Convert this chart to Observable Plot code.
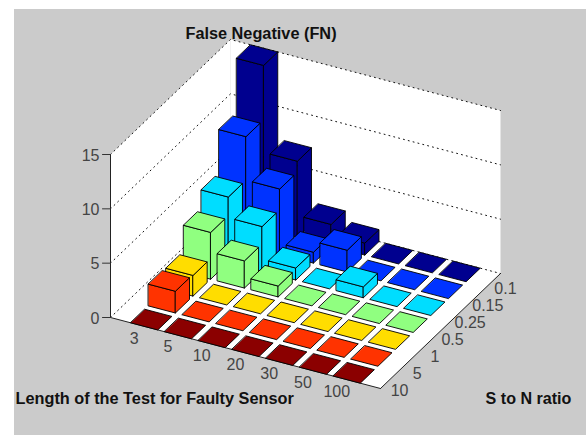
<!DOCTYPE html>
<html>
<head>
<meta charset="utf-8">
<script src="https://cdn.jsdelivr.net/npm/d3@7"></script>
<script src="https://cdn.jsdelivr.net/npm/@observablehq/plot@0.6"></script>
<style>
html,body{margin:0;padding:0;background:#fff;overflow:hidden}
svg{display:block}
</style>
</head>
<body>
<div id="chart"></div>
<script>
const title = "False Negative (FN)";
const xTitle = "Length of the Test for Faulty Sensor";
const yTitle = "S to N ratio";
const testLengths = ["3","5","10","20","30","50","100"];
const snRatios = ["10","5","1","0.5","0.25","0.15","0.1"];
const zTicks = [0,5,10,15];
const rowColors = ["#8b0000","#ff3300","#ffdd00","#90ff80","#00ddff","#0033ff","#00008f"];
const fn10   = [0,0,0,0,0,0,0];
const fn5    = [2,0,0,0,0,0,0];
const fn1    = [1.9,0,0,0,0,0,0];
const fn05   = [4.3,2.5,1,0,0,0,0];
const fn025  = [6,4.1,1.1,0,1,0,0];
const fn015  = [10,6,1,2,0,0,0];
const fn01   = [15,7,2,1.1,0,0,0];
const values = [fn10,fn5,fn1,fn05,fn025,fn015,fn01];

// Affine view of the box: floor corners on screen and height of the z range
const L=[110,317], F=[380,388], R=[500,273], zPx=163, zMax=15;
const xSpan=8, ySpan=6.8, barW=0.8;
const proj=(a,b,z)=>{
  const u=a/xSpan, v=(b-0.6)/ySpan;
  return [L[0]+u*(F[0]-L[0])+v*(R[0]-F[0]), L[1]+u*(F[1]-L[1])+v*(R[1]-F[1])-z/zMax*zPx];
};
const poly=(id,pts,extra={})=>pts.map(p=>{const [x,y]=proj(...p);return {id,x,y,...extra};});

// walls and floor
const a0=0,a1=xSpan,b0=0.6,b1=0.6+ySpan;
const walls=[
  ...poly("floor",[[a0,b0,0],[a1,b0,0],[a1,b1,0],[a0,b1,0]]),
  ...poly("wallL",[[a0,b0,0],[a0,b1,0],[a0,b1,zMax],[a0,b0,zMax]]),
  ...poly("wallB",[[a0,b1,0],[a1,b1,0],[a1,b1,zMax],[a0,b1,zMax]])
];
const grid=zTicks.flatMap(z=>poly("g"+z,[[a0,b0,z],[a0,b1,z],[a1,b1,z]]));
const axisLines=[
  ...poly("zAxis",[[a0,b0,0],[a0,b0,zMax]]),
  ...poly("xAxis",[[a0,b0,0],[a1,b0,0]]),
  ...poly("yAxis",[[a1,b0,0],[a1,b1,0]])
];
const zTickLines=zTicks.flatMap(z=>{
  const [x,y]=proj(a0,b0,z);
  return [{id:"t"+z,x,y},{id:"t"+z,x:x-8,y}];
});

// bars back to front
const faces=[];
for(let r=snRatios.length-1;r>=0;r--){
  for(let c=0;c<testLengths.length;c++){
    const h=values[r][c], a=c+1-barW/2, A=c+1+barW/2, b=r+1-barW/2, B=r+1+barW/2;
    const e={color:rowColors[r]};
    const k=`${r}-${c}`;
    if(h>0){
      faces.push(...poly(k+"l",[[a,b,0],[A,b,0],[A,b,h],[a,b,h]],e));
      faces.push(...poly(k+"r",[[A,b,0],[A,B,0],[A,B,h],[A,b,h]],e));
    }
    faces.push(...poly(k+"t",[[a,b,h],[A,b,h],[A,B,h],[a,B,h]],e));
  }
}

const zLabels=zTicks.map(z=>{const [x,y]=proj(a0,b0,z);return {x:x-11,y:y+1,t:String(z)};});
const xLabels=testLengths.map((t,i)=>{const [x,y]=proj(i+1,b0,0);return {x:x-10,y:y+12,t};});
const yLabels=snRatios.map((t,i)=>{const [x,y]=proj(a1,i+1,0);return {x:x+12,y:y+9,t};});
const bg=[{x1:14,x2:586,y1:9,y2:435}];
const labelFont="Liberation Sans";

const chart=Plot.plot({
  width:586,height:435,margin:0,
  x:{domain:[0,586],range:[0,586],axis:null},
  y:{domain:[0,435],range:[0,435],axis:null},
  style:{background:"#fff",fontFamily:labelFont},
  marks:[
    Plot.rect(bg,{x1:"x1",x2:"x2",y1:"y1",y2:"y2",fill:"#cbcbcb"}),
    Plot.line(walls,{x:"x",y:"y",z:"id",fill:"#fff",stroke:"none",curve:"linear-closed"}),
    Plot.line(grid,{x:"x",y:"y",z:"id",stroke:"#111",strokeWidth:1,strokeDasharray:"1,4"}),
    Plot.line(axisLines,{x:"x",y:"y",z:"id",stroke:"#222",strokeWidth:1}),
    Plot.line(zTickLines,{x:"x",y:"y",z:"id",stroke:"#333",strokeWidth:1}),
    Plot.line(faces,{x:"x",y:"y",z:"id",fill:"color",stroke:"#000",strokeWidth:0.9,curve:"linear-closed"}),
    Plot.text(zLabels,{x:"x",y:"y",text:"t",textAnchor:"end",fontSize:16,fill:"#444"}),
    Plot.text(xLabels,{x:"x",y:"y",text:"t",fontSize:16,fill:"#444"}),
    Plot.text(yLabels,{x:"x",y:"y",text:"t",fontSize:16,fill:"#444"}),
    Plot.text([title],{x:()=>260.5,y:()=>33,text:d=>d,fontSize:16.3,fontWeight:"bold",fill:"#111"}),
    Plot.text([xTitle],{x:()=>15,y:()=>398,text:d=>d,textAnchor:"start",fontSize:16.3,fontWeight:"bold",fill:"#111"}),
    Plot.text([yTitle],{x:()=>528,y:()=>398,text:d=>d,fontSize:16.1,fontWeight:"bold",fill:"#111"})
  ]
});
document.getElementById("chart").append(chart);
</script>
</body>
</html>
